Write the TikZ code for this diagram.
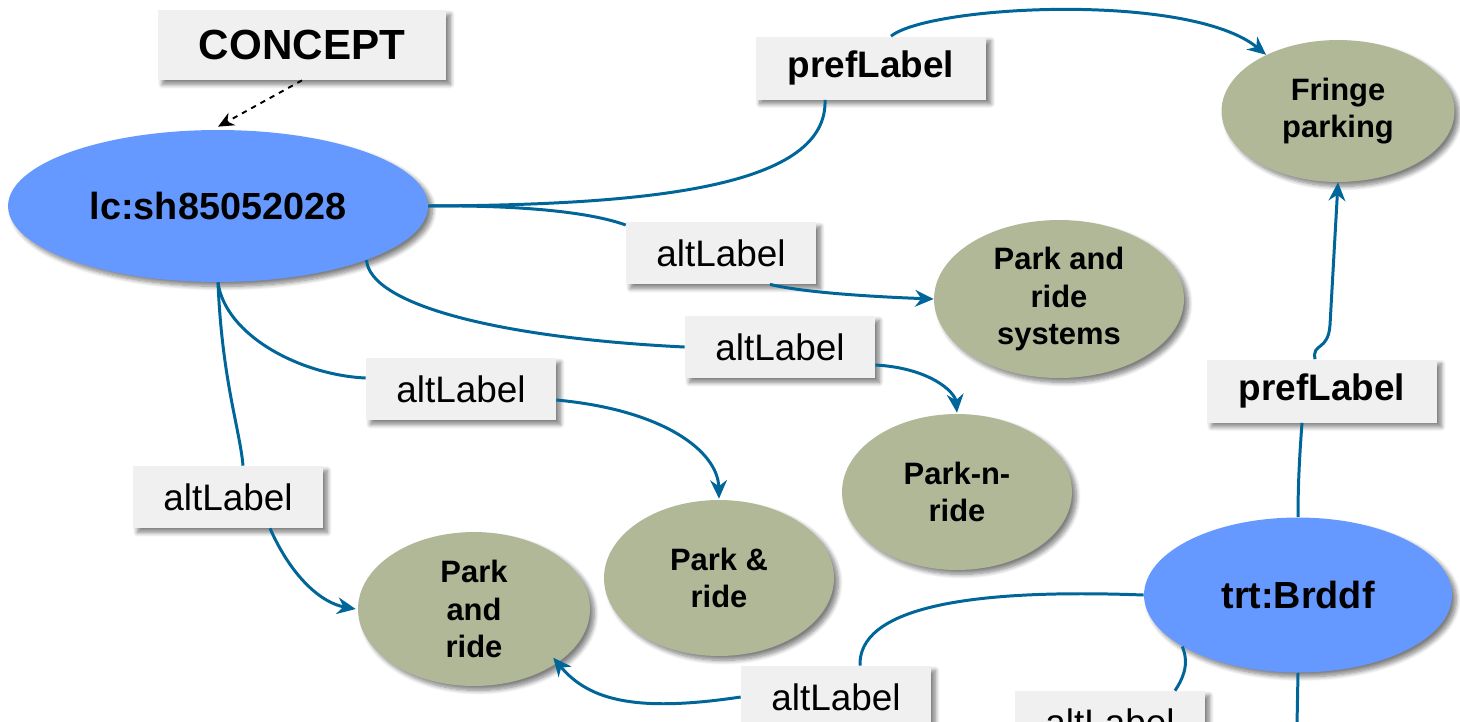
\documentclass[tikz,border=0pt]{standalone}
\usepackage{fontspec}
\setmainfont{Liberation Sans}
\usetikzlibrary{shapes.geometric,shadows.blur,arrows.meta,calc}
\definecolor{edgec}{RGB}{0,102,153}
\definecolor{conceptblue}{RGB}{102,153,255}
\definecolor{termgreen}{RGB}{176,184,152}
\definecolor{labelgray}{RGB}{240,240,240}
\begin{document}
\begin{tikzpicture}[x=0.02cm,y=-0.02cm,
  shd/.style={blur shadow={shadow xshift=2.5pt,shadow yshift=-2.5pt,shadow blur radius=2.5pt,shadow blur steps=8,shadow opacity=50}},
  lbl/.style={shd,fill=labelgray,minimum width=3.8cm,minimum height=1.24cm,inner sep=0pt,font=\fontsize{21}{25}\selectfont},
  plbl/.style={lbl,minimum width=4.62cm,minimum height=1.26cm,font=\fontsize{21}{25}\selectfont\bfseries},
  uri/.style={shd,ellipse,fill=conceptblue,inner sep=0pt,font=\fontsize{21.5}{25}\selectfont\bfseries},
  term/.style={shd,ellipse,fill=termgreen,inner sep=-4pt,align=center,font=\fontsize{17.6}{21.5}\selectfont\bfseries},
  rel/.style={draw=edgec,line width=1.7pt},
  arr/.style={rel,-{Stealth[length=10.5pt,width=9.5pt]}}
]
\useasboundingbox (0,0) rectangle (1460,721);
\clip (0,0) rectangle (1460,721);

% nodes
\node[lbl,minimum width=5.76cm,minimum height=1.4cm,font=\fontsize{24}{28}\selectfont\bfseries] (concept) at (302,45) {CONCEPT};
\node[uri,minimum width=8.4cm,minimum height=3.04cm] (lc) at (218,206) {lc:sh85052028};
\node[uri,minimum width=6.16cm,minimum height=3.1cm] (trt) at (1298,595) {trt:Brddf};
\node[term,minimum width=4.66cm,minimum height=2.84cm] (fringe) at (1338,111) {Fringe\\parking};
\node[term,minimum width=5.0cm,minimum height=3.16cm] (prs) at (1059,299) {Park and\\ride\\systems};
\node[term,minimum width=4.6cm,minimum height=3.12cm] (pnr) at (957,492) {Park-n-\\ride};
\node[term,minimum width=4.6cm,minimum height=3.12cm] (pamp) at (719,578) {Park \&\\ride};
\node[term,minimum width=4.64cm,minimum height=3.08cm] (pandr) at (474,609) {Park\\and\\ride};

\node[plbl] (pref1) at (871,68) {prefLabel};
\node[plbl,minimum width=4.6cm] (pref2) at (1322,391) {prefLabel};
\node[lbl] (alt1) at (721,253) {altLabel};
\node[lbl] (alt2) at (780,347) {altLabel};
\node[lbl] (alt3) at (461,389) {altLabel};
\node[lbl] (alt4) at (228,497) {altLabel};
\node[lbl] (alt5) at (836,697) {altLabel};
\node[lbl] (alt6) at (1110,722) {altLabel};

% connectors
\draw[dashed,line width=1.1pt,-{Stealth[length=9pt,width=8pt]}] (concept.south) -- ($(lc.north)+(0,-3)$);

\draw[rel] (lc.east) .. controls (660,205) and (828,185) .. ($(pref1.south)+(-46,0)$);
\draw[arr] ($(pref1.north)+(20,0)$) .. controls (930,5) and (1190,-8) .. (fringe.142);

\draw[rel] (lc.east) .. controls (520,205) and (590,212) .. ($(alt1.west)+(0,-28)$);
\draw[arr] ($(alt1.south)+(49,0)$) .. controls (805,293) and (880,297) .. (prs.west);

\draw[rel] (lc.-20) .. controls (370,305) and (500,338) .. (alt2.west);
\draw[arr] ($(alt2.east)+(0,18)$) .. controls (930,368) and (955,392) .. ($(pnr.north)+(0,-1)$);

\draw[rel] (lc.south) .. controls (225,335) and (300,375) .. ($(alt3.west)+(0,-11)$);
\draw[arr] ($(alt3.east)+(0,11)$) .. controls (665,410) and (718,452) .. ($(pamp.north)+(0,-1)$);

\draw[rel] (lc.south) .. controls (222,380) and (240,430) .. ($(alt4.north)+(15,0)$);
\draw[arr] ($(alt4.south)+(42,0)$) .. controls (292,578) and (322,603) .. ($(pandr.west)+(-2,0)$);

\draw[rel] (trt.north) .. controls (1298,480) and (1300,450) .. ($(pref2.south)+(-20,0)$);
\draw[arr] ($(pref2.north)+(-7,0)$) .. controls (1312,342) and (1328,352) .. (1330,325) -- (fringe.south);

\draw[rel] (trt.west) .. controls (960,588) and (858,610) .. ($(alt5.north)+(24,0)$);
\draw[arr] (alt5.west) .. controls (640,712) and (590,702) .. ($(pandr.south east)+(-3,-6)$);

\draw[rel] (trt.204) .. controls (1190,665) and (1182,680) .. ($(alt6.north)+(65,0)$);
\coordinate (bot) at (1297,725);
\draw[rel] (trt.south) -- (bot);
\end{tikzpicture}
\end{document}
